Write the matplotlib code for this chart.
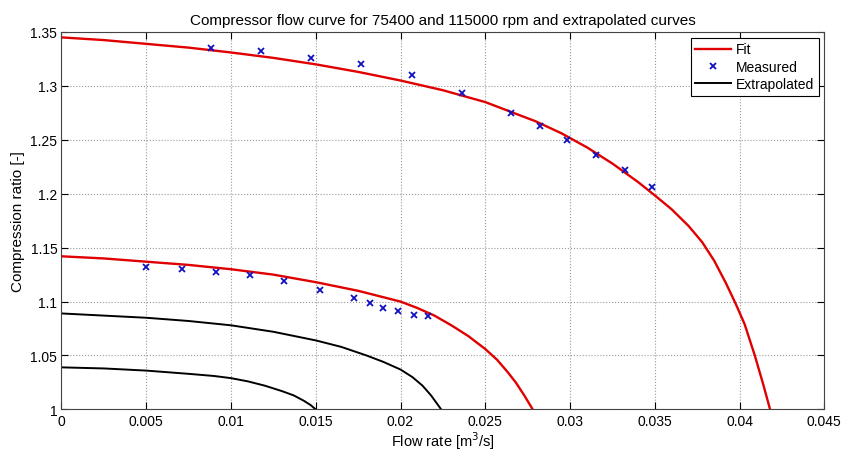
import matplotlib
matplotlib.use('Agg')
import matplotlib.pyplot as plt

plt.rcParams['font.family'] = ['Liberation Sans', 'DejaVu Sans']

# measured points, 115000 rpm
meas_hi_x = [0.0088, 0.01175, 0.0147, 0.01766, 0.0207, 0.02362, 0.02652,
             0.02824, 0.02983, 0.03155, 0.03327, 0.03484]
meas_hi_y = [1.335, 1.332, 1.326, 1.320, 1.310, 1.293, 1.275,
             1.263, 1.250, 1.236, 1.222, 1.206]

# measured points, 75400 rpm
meas_lo_x = [0.0050, 0.00711, 0.00914, 0.01115, 0.01315, 0.01527, 0.01727,
             0.01818, 0.01898, 0.01988, 0.02078, 0.0216]
meas_lo_y = [1.132, 1.130, 1.127, 1.125, 1.119, 1.111, 1.103,
             1.099, 1.094, 1.091, 1.088, 1.087]

# fitted curves
fit_hi_x = [0.0, 0.0025, 0.005, 0.0075, 0.01, 0.0125, 0.015, 0.0175, 0.02,
            0.0225, 0.025, 0.0265, 0.028, 0.0295, 0.031, 0.0325, 0.034,
            0.035, 0.036, 0.037, 0.0378, 0.0385, 0.0392, 0.0398, 0.0403,
            0.0409, 0.0414, 0.0418]
fit_hi_y = [1.345, 1.3425, 1.339, 1.3355, 1.331, 1.326, 1.320, 1.313, 1.305,
            1.296, 1.285, 1.276, 1.267, 1.256, 1.243, 1.228, 1.211,
            1.1985, 1.1855, 1.170, 1.155, 1.138, 1.117, 1.097, 1.079,
            1.050, 1.023, 1.000]

fit_lo_x = [0.0, 0.0025, 0.005, 0.0075, 0.01, 0.0125, 0.015, 0.0175, 0.02,
            0.021, 0.022, 0.023, 0.024, 0.025, 0.0257, 0.0263, 0.0268,
            0.0273, 0.0278]
fit_lo_y = [1.142, 1.140, 1.137, 1.134, 1.130, 1.125, 1.118, 1.110, 1.100,
            1.094, 1.087, 1.078, 1.068, 1.056, 1.046, 1.035, 1.025,
            1.013, 1.000]

# extrapolated curves
ext1_x = [0.0, 0.0025, 0.005, 0.0075, 0.01, 0.0125, 0.015, 0.0165, 0.018,
          0.019, 0.02, 0.0207, 0.0213, 0.0218, 0.0224]
ext1_y = [1.089, 1.087, 1.085, 1.082, 1.078, 1.072, 1.064, 1.058, 1.050,
          1.044, 1.037, 1.030, 1.022, 1.013, 1.000]

ext2_x = [0.0, 0.0025, 0.005, 0.0075, 0.009, 0.01, 0.011, 0.012, 0.013,
          0.0137, 0.0143, 0.0147, 0.015]
ext2_y = [1.039, 1.038, 1.036, 1.033, 1.031, 1.029, 1.026, 1.022, 1.017,
          1.013, 1.008, 1.004, 1.000]

xticks = [0, 0.005, 0.01, 0.015, 0.02, 0.025, 0.03, 0.035, 0.04, 0.045]
yticks = [1, 1.05, 1.1, 1.15, 1.2, 1.25, 1.3, 1.35]

fig = plt.figure(figsize=(8.42, 4.52), dpi=100)
ax = fig.add_axes([0.073, 0.092, 0.906, 0.835])

ax.plot(fit_hi_x, fit_hi_y, color='#e00000', lw=1.7, label='Fit')
ax.plot(meas_hi_x, meas_hi_y, 'x', color='#1010c0', ms=4, mew=1.3, label='Measured')
ax.plot(ext1_x, ext1_y, color='black', lw=1.4, label='Extrapolated')
ax.plot(fit_lo_x, fit_lo_y, color='#e00000', lw=1.7)
ax.plot(meas_lo_x, meas_lo_y, 'x', color='#1010c0', ms=4, mew=1.3)
ax.plot(ext2_x, ext2_y, color='black', lw=1.4)

ax.set_xlim(0, 0.045)
ax.set_ylim(1, 1.35)
ax.set_xticks(xticks)
ax.set_yticks(yticks)
ax.set_xticklabels(['%g' % v for v in xticks])
ax.set_yticklabels(['%g' % v for v in yticks])
ax.tick_params(direction='in', top=True, right=True, labelsize=10, length=5,
               width=0.8, pad=3)
ax.grid(True, linestyle=':', color='#999999', linewidth=0.8)

for s in ax.spines.values():
    s.set_color('#444444')
    s.set_linewidth(0.8)

ax.set_title('Compressor flow curve for 75400 and 115000 rpm and extrapolated curves',
             fontsize=11)
ax.set_xlabel('Flow rate [m$^3$/s]', fontsize=10.5, labelpad=1)
ax.set_ylabel('Compression ratio [-]', fontsize=11)

leg = ax.legend(loc='upper right', fontsize=10, fancybox=False, framealpha=1,
                edgecolor='black', borderaxespad=0.4, handlelength=2.6,
                handletextpad=0.3, borderpad=0.35, labelspacing=0.25)
leg.get_frame().set_linewidth(0.8)

fig.savefig('out.png', dpi=100)
